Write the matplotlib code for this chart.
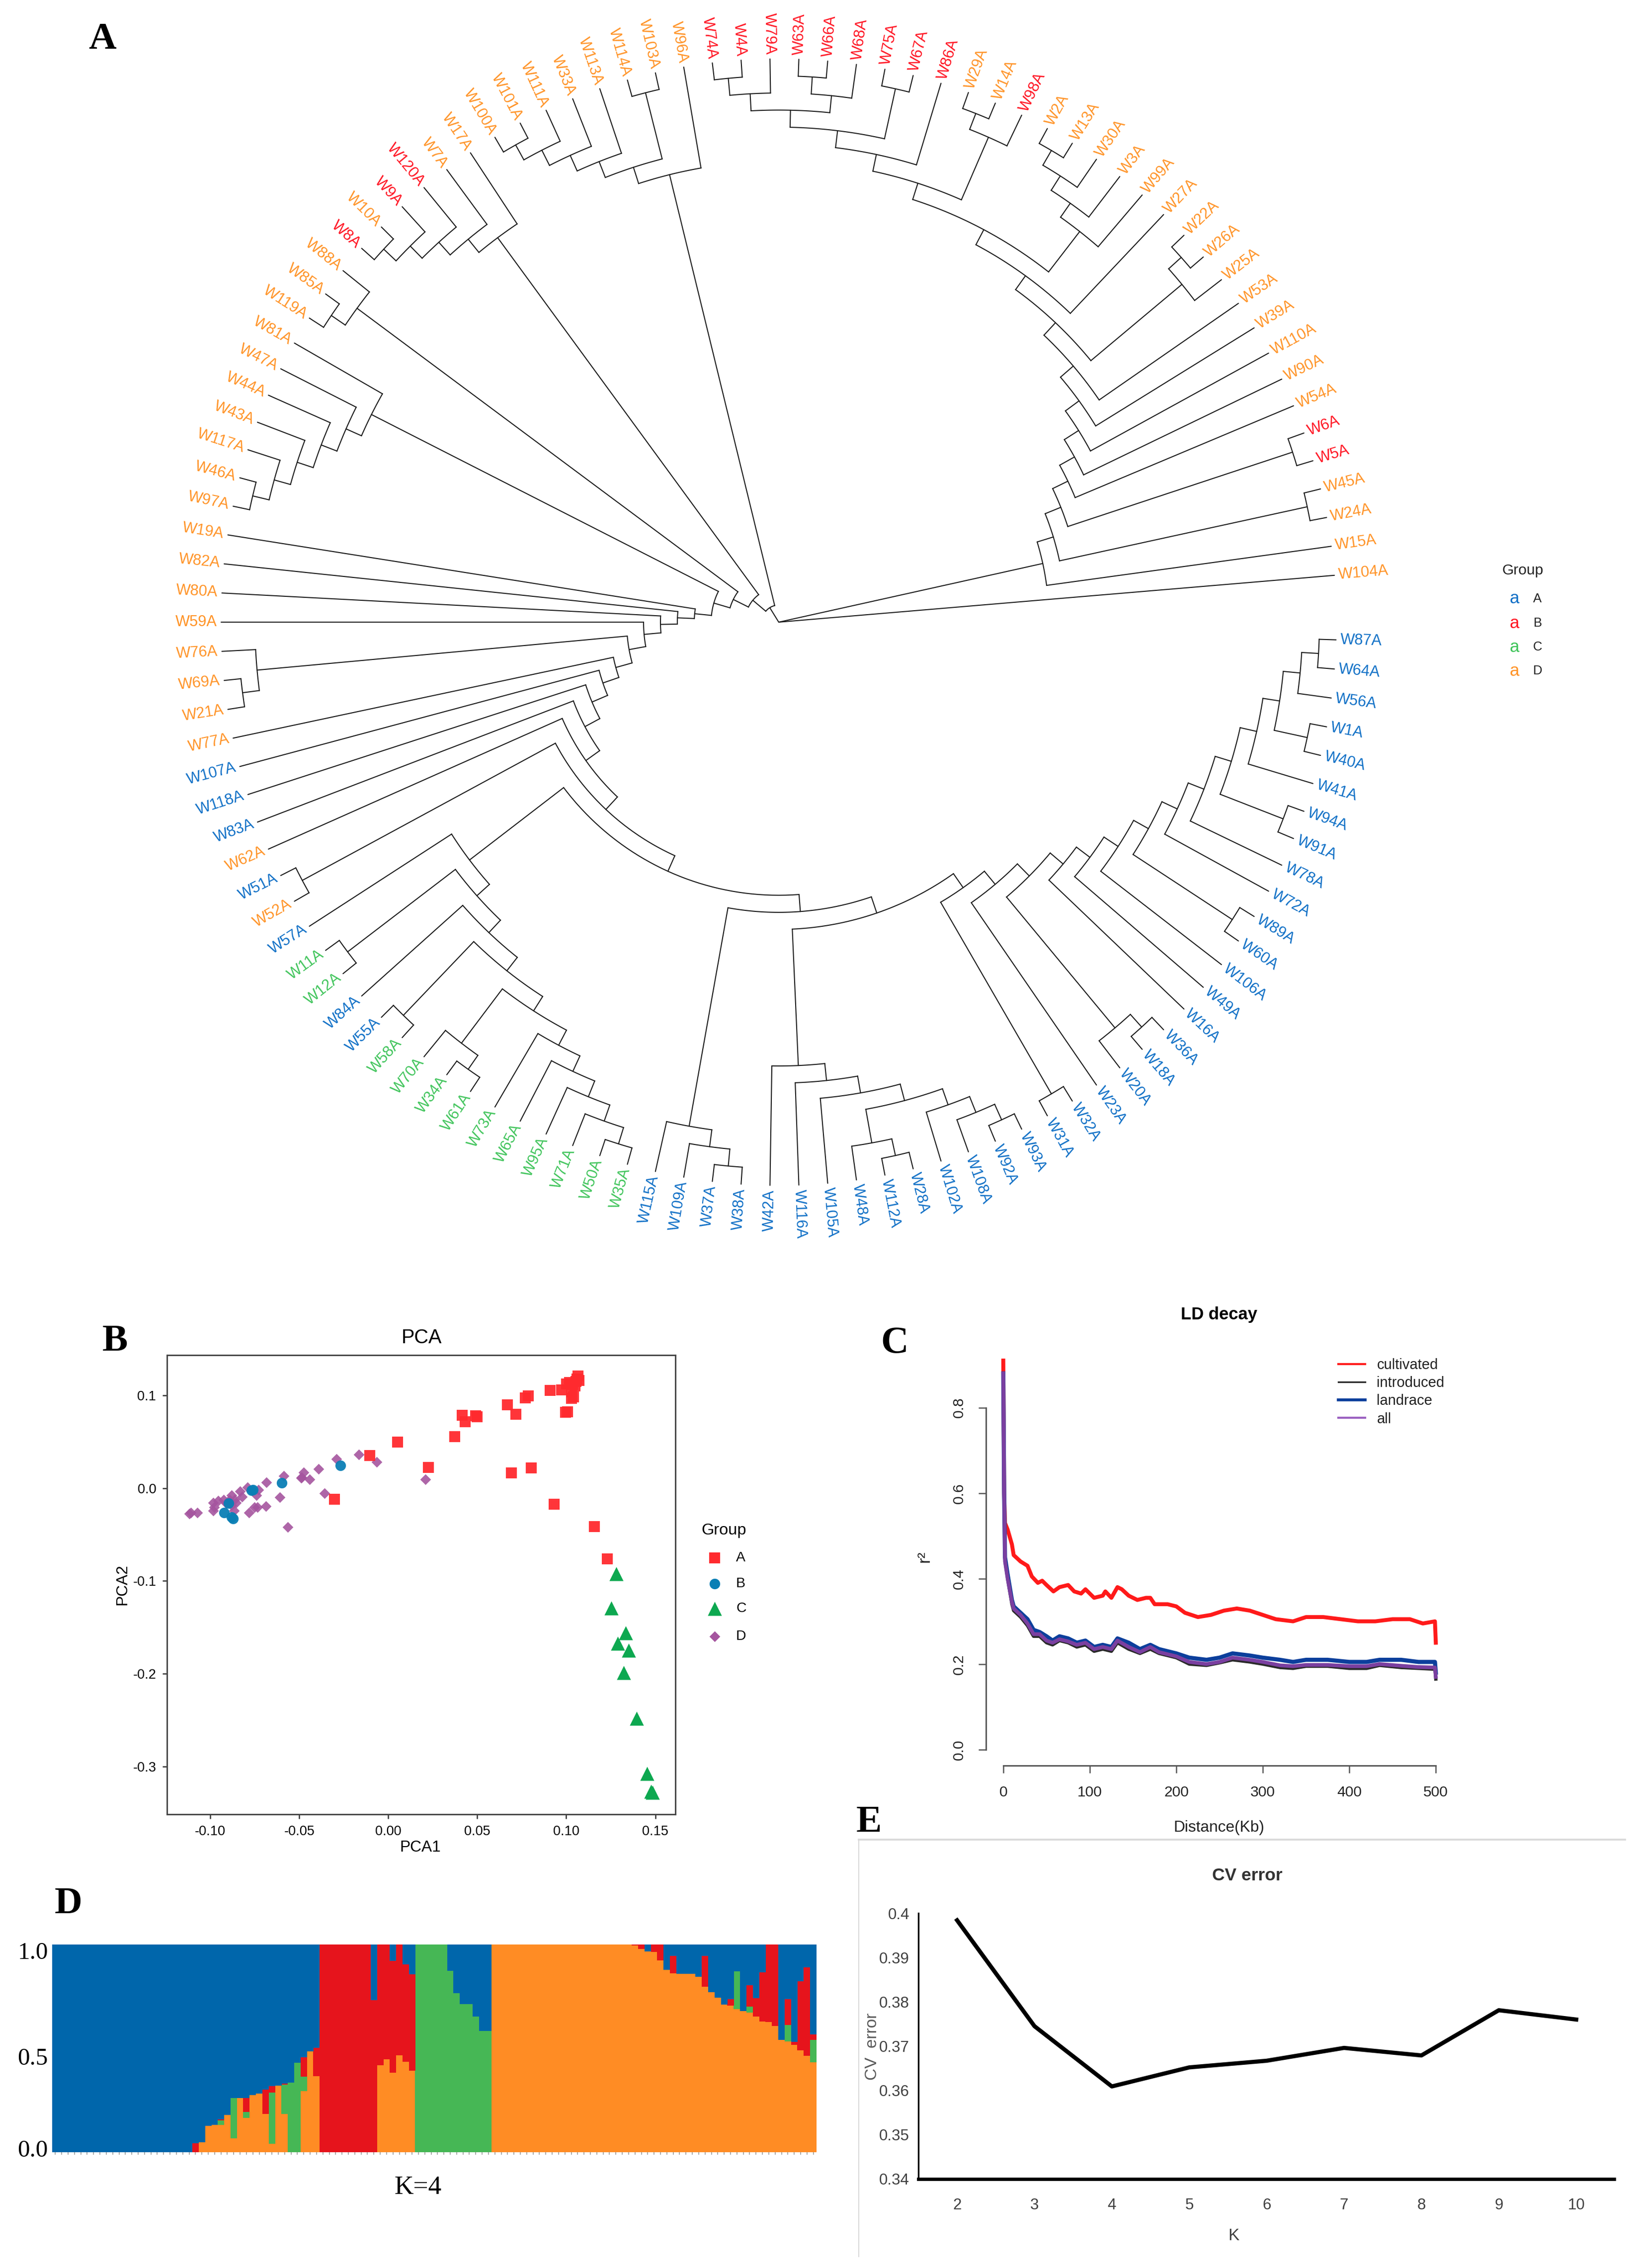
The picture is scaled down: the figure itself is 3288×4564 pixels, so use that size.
import math

import matplotlib
matplotlib.use('Agg')
import matplotlib.pyplot as plt
from matplotlib.lines import Line2D

plt.rcParams['font.family'] = ['Liberation Sans', 'DejaVu Sans']

W, H = 3288, 4564

# ---- A: tree, written clade by clade from the tips inward
x1 = ('W79A', ('W4A', 'W74A'))
x2 = (('W68A', ('W66A', 'W63A')), x1)
x3 = (('W67A', 'W75A'), x2)
x4 = ('W86A', x3)
x5 = (('W98A', ('W14A', 'W29A')), x4)
x6 = (('W99A', ('W3A', ('W30A', ('W13A', 'W2A')))), x5)
x7 = ('W27A', x6)
x8 = (('W25A', ('W26A', 'W22A')), x7)
x9 = ('W53A', x8)
x10 = ('W39A', x9)
x11 = ('W110A', x10)
x12 = ('W90A', x11)
x13 = ('W54A', x12)
x14 = (('W5A', 'W6A'), x13)
x15 = (('W24A', 'W45A'), x14)
clade_x = ('W15A', x15)

g1 = ('W50A', 'W35A')
g2 = ('W71A', g1)
g3 = ('W95A', g2)
g4 = ('W65A', g3)
g5 = ('W73A', g4)
g6 = (('W70A', ('W34A', 'W61A')), g5)
g7 = (('W55A', 'W58A'), g6)
g8 = ('W84A', g7)
g9 = (('W11A', 'W12A'), g8)
clade_green = ('W57A', g9)

r1 = ('W56A', ('W64A', 'W87A'))
r2 = (('W40A', 'W1A'), r1)
r3 = ('W41A', r2)
r4 = (('W91A', 'W94A'), r3)
r5 = ('W78A', r4)
r6 = ('W72A', r5)
r7 = (('W60A', 'W89A'), r6)
r8 = ('W106A', r7)
r9 = ('W49A', r8)
r10 = ('W16A', r9)
r11 = (('W20A', ('W18A', 'W36A')), r10)
r12 = ('W23A', r11)
clade_right = (('W31A', 'W32A'), r12)

clade_w42 = ('W42A', ('W116A', ('W105A', (('W48A', ('W112A', 'W28A')), ('W102A', ('W108A', ('W92A', 'W93A')))))))
clade_w115 = ('W115A', ('W109A', ('W37A', 'W38A')))
clade_w76 = ('W76A', ('W69A', 'W21A'))

s1 = (clade_w42, clade_right)
s2 = (clade_w115, s1)
s3 = (clade_green, s2)
s4 = (('W51A', 'W52A'), s3)
s5 = ('W62A', s4)
s6 = ('W83A', s5)
s7 = ('W118A', s6)
s8 = ('W107A', s7)
s9 = ('W77A', s8)
s10 = (clade_w76, s9)
s11 = ('W59A', s10)
s12 = ('W80A', s11)
s13 = ('W82A', s12)
clade_rest = ('W19A', s13)

clade_w81 = ('W81A', ('W47A', ('W44A', ('W43A', ('W117A', ('W46A', 'W97A'))))))
clade_w88 = ('W88A', ('W85A', 'W119A'))
clade_w17 = ('W17A', ('W7A', ('W120A', ('W9A', ('W10A', 'W8A')))))
clade_w96 = ('W96A', (('W103A', 'W114A'), ('W113A', ('W33A', ('W111A', ('W101A', 'W100A'))))))
clade_y = (clade_w96, (clade_w17, (clade_w88, (clade_w81, clade_rest))))
tree_root = ('W104A', clade_x, clade_y)

tips_red = ['W6A', 'W5A', 'W98A', 'W86A', 'W67A', 'W75A', 'W68A', 'W66A', 'W63A', 'W79A', 'W4A', 'W74A',
            'W120A', 'W9A', 'W8A']
tips_green = ['W11A', 'W12A', 'W58A', 'W70A', 'W34A', 'W61A', 'W73A', 'W65A', 'W95A', 'W71A', 'W50A', 'W35A']
tips_blue = ['W107A', 'W118A', 'W83A', 'W51A', 'W57A', 'W84A', 'W55A', 'W115A', 'W109A', 'W37A', 'W38A', 'W42A',
             'W116A', 'W105A', 'W48A', 'W112A', 'W28A', 'W102A', 'W108A', 'W92A', 'W93A', 'W31A', 'W32A', 'W23A',
             'W20A', 'W18A', 'W36A', 'W16A', 'W49A', 'W106A', 'W60A', 'W89A', 'W72A', 'W78A', 'W91A', 'W94A',
             'W41A', 'W40A', 'W1A', 'W56A', 'W64A', 'W87A']

tree_groups = ['A', 'B', 'C', 'D']
tree_colors = ['#0F6FC6', '#FF1422', '#3FC45A', '#FF9326']

# ---- B: PCA scores
pca_a_x = [-0.0303, -0.0104, 0.0053, 0.0225, 0.0373, 0.0414, 0.0433, 0.0491, 0.0498, 0.0669, 0.0718, 0.0692, 0.0803,
           0.0771, 0.0787, 0.0910, 0.0931, 0.0975, 0.0995, 0.1002, 0.1157, 0.1231, 0.1030, 0.1042, 0.1019, 0.1065,
           0.1072, 0.1049, 0.1035, 0.1055, 0.1008, 0.1030, 0.1060]
pca_a_y = [-0.0117, 0.0351, 0.0495, 0.0226, 0.0558, 0.0788, 0.0717, 0.0780, 0.0770, 0.0901, 0.0799, 0.0164, 0.0218,
           0.0975, 0.0994, 0.1053, -0.0172, 0.1060, 0.0819, 0.1123, -0.0413, -0.0764, 0.0967, 0.0986, 0.1142, 0.1209,
           0.1162, 0.1103, 0.1120, 0.1150, 0.0825, 0.1040, 0.1180]
pca_b_x = [-0.0269, -0.0597, -0.0769, -0.0760, -0.0898, -0.0921, -0.0873, -0.0880]
pca_b_y = [0.0246, 0.0055, -0.0023, -0.0018, -0.0164, -0.0265, -0.0327, -0.0310]
pca_c_x = [0.1282, 0.1252, 0.1333, 0.1289, 0.1350, 0.1324, 0.1394, 0.1454, 0.1475, 0.1484]
pca_c_y = [-0.0924, -0.1294, -0.1559, -0.1676, -0.1747, -0.1988, -0.2483, -0.3076, -0.3271, -0.3279]
pca_d_x = [-0.1116, -0.1109, -0.1074, -0.0984, -0.0956, -0.0926, -0.0984, -0.0977, -0.0880, -0.0863, -0.0822, -0.0833,
           -0.0792, -0.0729, -0.0741, -0.0685, -0.0782, -0.0752, -0.0734, -0.0688, -0.0609, -0.0586, -0.0565, -0.0486,
           -0.0475, -0.0442, -0.0391, -0.0359, -0.0292, -0.0164, -0.0065, 0.0208, -0.0890, -0.0866, -0.0880, -0.0856,
           -0.0890, -0.0912, -0.0490]
pca_d_y = [-0.0273, -0.0265, -0.0265, -0.0156, -0.0133, -0.0125, -0.0242, -0.0203, -0.0074, -0.0125, -0.0094, -0.0035,
           0.0008, -0.0019, -0.0074, 0.0062, -0.0265, -0.0203, -0.0207, -0.0195, -0.0097, 0.0133, -0.0421, 0.0117,
           0.0168, 0.0097, 0.0207, -0.0055, 0.0316, 0.0363, 0.0285, 0.0097, -0.0125, -0.0242, -0.0183, -0.0156,
           -0.0144, -0.0164, 0.0110]
pca_labels = ['A', 'B', 'C', 'D']

# ---- C: LD decay
ld_red_x = [0, 1, 2, 5, 10, 12, 20, 28, 33, 40, 45, 50, 58, 65, 75, 82, 90, 95, 105, 115, 118, 125, 132, 137, 145, 155,
            165, 170, 175, 190, 200, 210, 225, 240, 255, 270, 285, 300, 315, 335, 350, 370, 390, 410, 430, 450, 470,
            485, 499, 500]
ld_red_y = [0.91, 0.60, 0.53, 0.515, 0.48, 0.455, 0.44, 0.43, 0.405, 0.39, 0.395, 0.385, 0.37, 0.38, 0.385, 0.37, 0.365,
            0.375, 0.355, 0.36, 0.37, 0.355, 0.38, 0.375, 0.36, 0.35, 0.355, 0.355, 0.34, 0.34, 0.335, 0.32, 0.31, 0.315,
            0.325, 0.33, 0.325, 0.315, 0.305, 0.30, 0.31, 0.31, 0.305, 0.30, 0.30, 0.305, 0.305, 0.295, 0.30, 0.25]
ld_x = [0, 1, 2, 5, 10, 12, 20, 28, 35, 42, 50, 57, 65, 75, 85, 95, 105, 115, 125, 132, 145, 158, 170, 180, 200, 215,
        235, 250, 265, 285, 300, 320, 335, 350, 375, 400, 420, 435, 460, 480, 499, 500]
ld_blue_y = [0.88, 0.60, 0.45, 0.41, 0.35, 0.335, 0.32, 0.305, 0.28, 0.275, 0.265, 0.255, 0.265, 0.26, 0.25, 0.255, 0.24,
             0.245, 0.24, 0.26, 0.25, 0.235, 0.245, 0.235, 0.225, 0.215, 0.21, 0.215, 0.225, 0.22, 0.215, 0.21, 0.205,
             0.21, 0.21, 0.205, 0.205, 0.21, 0.21, 0.205, 0.205, 0.18]
ld_black_y = [0.87, 0.59, 0.44, 0.40, 0.34, 0.325, 0.31, 0.29, 0.265, 0.265, 0.25, 0.245, 0.255, 0.25, 0.24, 0.245, 0.23,
              0.235, 0.23, 0.25, 0.235, 0.225, 0.235, 0.225, 0.215, 0.20, 0.197, 0.203, 0.21, 0.205, 0.20, 0.192, 0.19,
              0.195, 0.195, 0.19, 0.19, 0.197, 0.192, 0.19, 0.188, 0.165]
ld_purple_y = [0.88, 0.60, 0.44, 0.40, 0.345, 0.33, 0.315, 0.295, 0.27, 0.27, 0.255, 0.25, 0.258, 0.253, 0.245, 0.25, 0.235,
               0.24, 0.235, 0.255, 0.24, 0.228, 0.24, 0.228, 0.218, 0.205, 0.20, 0.205, 0.215, 0.21, 0.205, 0.197, 0.195,
               0.198, 0.198, 0.195, 0.195, 0.20, 0.196, 0.193, 0.192, 0.17]
ld_names = ['cultivated', 'introduced', 'landrace', 'all']

# ---- D: admixture proportions, K=4, one value per accession
adm_orange = ([0] * 22 + [0, .047, .126, .131, .131, .179, .067, .261, .165, .275, .283, .184, .04, .32, .184, 0, 0,
              .293, .485, .365] + [0] * 9 + [.419, .447, .382, .466, .435, .391] + [0] * 12 + [1] * 22 +
              [.994, .977, .966, .963, .922, .878, .860, .857, .857, .857, .844, .796, .770, .743, .709, .705, .689,
               .679, .672, .652, .629, .625, .608, .539, .533, .517, .490, .464, .432])
adm_green = ([0] * 22 + [0, 0, 0, 0, .023, 0, .194, 0, .029, 0, 0, 0, .247, 0, .141, .334, .43, .071, 0, 0] + [0] * 15 +
             [1, 1, 1, 1, 1, .873, .764, .711, .711, .652, .584, .584] + [0] * 22 + [0] * 16 +
             [.180, 0, .027, 0, 0, 0, 0, 0, .078, 0, 0, 0, .107])
adm_red = ([0] * 22 + [.043, 0, 0, 0, .003, 0, 0, 0, .067, 0, 0, .116, .03, 0, .005, 0, 0, .092, 0, .136] + [1] * 8 +
           [.73, .581, .553, .539, .534, .469, .464] + [0] * 34 +
           [.006, .023, 0, .037, .078, 0, .085, 0, 0, 0, 0, .149, 0, 0, 0, .031, 0, 0, .103, .088, .237, .375, .392,
            0, .125, .014, .331, .426, .027])
adm_blue = ([1] * 22 + [.957, .953, .874, .869, .843, .821, .739, .739, .739, .725, .717, .70, .683, .68, .67, .666, .57,
            .544, .515, .499] + [0] * 8 + [.27, 0, 0, .079, 0, .096, .145] + [0] * 5 +
            [.127, .236, .289, .289, .348, .416, .416] + [0] * 22 +
            [0, 0, .034, 0, 0, .122, .055, .143, .143, .143, .156, .055, .23, .257, .291, .264, .131, .321, .198, .26,
             .134, 0, 0, .461, .264, .469, .179, .11, .434])

# ---- E: CV error
cv_k = ['2', '3', '4', '5', '6', '7', '8', '9', '10']
cv_error = [0.3984, 0.3745, 0.3609, 0.3652, 0.3667, 0.3696, 0.3679, 0.3781, 0.3760]

fig = plt.figure(figsize=(W / 300, H / 300), dpi=300)


def px_axes(left, top, right, bottom):
    return fig.add_axes([left / W, 1 - bottom / H, (right - left) / W, (bottom - top) / H])


def ftext(x, y, s, **kw):
    kw.setdefault('ha', 'center')
    kw.setdefault('va', 'center')
    return fig.text(x / W, 1 - y / H, s, **kw)


# panel letters
for letra, lx, ly in [('A', 178, 98), ('B', 206, 2718), ('C', 1772, 2722), ('D', 110, 3850), ('E', 1723, 3686)]:
    ftext(lx, ly, letra, ha='left', va='baseline', family='Liberation Serif', weight='bold', fontsize=18.5)


# ---- A
tree_ax = px_axes(0, 0, W, 2600)
tree_ax.set_xlim(-1567 / 34, (W - 1567) / 34)
tree_ax.set_ylim((1252 - 2600) / 34.35, 1252 / 34.35)
tree_ax.axis('off')

STEP = 2.97
START = 4.77
TIP_DEPTH = 33
tip_count = [0]


def altura(nodo):
    if isinstance(nodo, str):
        return 0
    return 1 + max(altura(hijo) for hijo in nodo)


def color_tip(nombre):
    if nombre in tips_red:
        return tree_colors[1]
    if nombre in tips_green:
        return tree_colors[2]
    if nombre in tips_blue:
        return tree_colors[0]
    return tree_colors[3]


def radial(tabla, angulo, r1, r2):
    a = math.radians(angulo)
    tabla.plot([r1 * math.cos(a), r2 * math.cos(a)], [r1 * math.sin(a), r2 * math.sin(a)],
               color='#1a1a1a', lw=0.5, solid_capstyle='round')


def dibujar(tabla, nodo, r_padre):
    if isinstance(nodo, str):
        angulo = START + STEP * tip_count[0]
        tip_count[0] += 1
        radial(tabla, angulo, r_padre, TIP_DEPTH)
        a = math.radians(angulo)
        derecha = math.cos(a) > 0
        tabla.text(33.25 * math.cos(a), 33.25 * math.sin(a), nodo, color=color_tip(nodo), fontsize=7.4,
                   rotation=angulo if derecha else angulo + 180, rotation_mode='anchor',
                   ha='left' if derecha else 'right', va='center')
        return angulo
    r = TIP_DEPTH - altura(nodo)
    angulos = [dibujar(tabla, hijo, r) for hijo in nodo]
    a1, a2 = angulos[0], angulos[-1]
    medio = (a1 + a2) / 2
    puntos = [a1 + (a2 - a1) * k / 40 for k in range(41)]
    tabla.plot([r * math.cos(math.radians(p)) for p in puntos], [r * math.sin(math.radians(p)) for p in puntos],
               color='#1a1a1a', lw=0.5)
    radial(tabla, medio, r_padre, r)
    return medio


for hijo in tree_root:
    dibujar(tree_ax, hijo, 0)

ftext(3064, 1148, 'Group', fontsize=7.2, color='#222222')
for i, y_leg in enumerate([1205, 1254, 1302, 1350]):
    ftext(3047, y_leg, 'a', fontsize=8.4, color=tree_colors[i])
    ftext(3094, y_leg, tree_groups[i], fontsize=6.2, color='#222222')


# ---- B
pca_ax = px_axes(336, 2727, 1359, 3651)
pca_ax.set_xlim(-0.1243, 0.1613)
pca_ax.set_ylim(-0.3517, 0.1435)
pca_ax.scatter(pca_d_x, pca_d_y, marker='D', s=13.5, color='#A5559F', alpha=0.9, linewidths=0)
pca_ax.scatter(pca_a_x, pca_a_y, marker='s', s=26, color='#FF2A2E', alpha=0.95, linewidths=0)
pca_ax.scatter(pca_b_x, pca_b_y, marker='o', s=26, color='#0A7FB5', alpha=0.95, linewidths=0)
pca_ax.scatter(pca_c_x, pca_c_y, marker='^', s=46, color='#0DA850', linewidths=0)
pca_ax.set_xticks([-0.10, -0.05, 0.00, 0.05, 0.10, 0.15], ['-0.10', '-0.05', '0.00', '0.05', '0.10', '0.15'])
pca_ax.set_yticks([-0.3, -0.2, -0.1, 0.0, 0.1], ['-0.3', '-0.2', '-0.1', '0.0', '0.1'])
pca_ax.tick_params(labelsize=6.5, length=2.2, width=0.6, pad=3, color='#333333')
for borde in pca_ax.spines.values():
    borde.set_linewidth(0.7)
    borde.set_color('#444444')
ftext(848, 2692, 'PCA', fontsize=9.5)
ftext(846, 3718, 'PCA1', fontsize=7.6)
ftext(246, 3189, 'PCA2', fontsize=7.6, rotation=90)

ftext(1457, 3080, 'Group', fontsize=7.8)
leyenda_ax = px_axes(1400, 3100, 1475, 3330)
leyenda_ax.set_xlim(0, 1)
leyenda_ax.set_ylim(3330, 3100)
leyenda_ax.axis('off')
marcas = [('s', 26, '#FF2A2E'), ('o', 26, '#0A7FB5'), ('^', 46, '#0DA850'), ('D', 13.5, '#A5559F')]
for i, y_leg in enumerate([3135, 3187, 3237, 3293]):
    leyenda_ax.scatter([0.5], [y_leg], marker=marcas[i][0], s=marcas[i][1], color=marcas[i][2], linewidths=0)
    ftext(1481, y_leg, pca_labels[i], ha='left', fontsize=6.8)


# ---- C
ld_ax = px_axes(1984, 2707, 2924, 3553)
ld_ax.set_xlim(-20, 520)
ld_ax.set_ylim(-0.0375, 0.946)
ld_ax.plot(ld_red_x, ld_red_y, color='#FF1A1A', lw=1.9)
ld_ax.plot(ld_x, ld_black_y, color='#2A2A2A', lw=1.6)
ld_ax.plot(ld_x, ld_blue_y, color='#0C3F9C', lw=2.0)
ld_ax.plot(ld_x, ld_purple_y, color='#7A3FA0', lw=1.8)
for lado in ['top', 'right']:
    ld_ax.spines[lado].set_visible(False)
ld_ax.spines['left'].set_bounds(0, 0.8)
ld_ax.spines['bottom'].set_bounds(0, 500)
for lado in ['left', 'bottom']:
    ld_ax.spines[lado].set_color('#555555')
    ld_ax.spines[lado].set_linewidth(0.7)
ld_ax.set_xticks([0, 100, 200, 300, 400, 500])
ld_ax.set_yticks([0.0, 0.2, 0.4, 0.6, 0.8], ['0.0', '0.2', '0.4', '0.6', '0.8'])
ld_ax.tick_params(axis='x', labelsize=7.2, length=3.6, width=0.6, pad=6, color='#555555', labelcolor='#222222')
ld_ax.tick_params(axis='y', labelsize=7.2, length=3.6, width=0.6, pad=6, color='#555555', labelcolor='#222222',
                  labelrotation=90)
for etiqueta in ld_ax.get_yticklabels():
    etiqueta.set_va('center')
manejos = [Line2D([], [], color='#FF1A1A', lw=1.0), Line2D([], [], color='#2A2A2A', lw=0.8),
           Line2D([], [], color='#0C3F9C', lw=1.4), Line2D([], [], color='#9A5FC0', lw=1.0)]
ld_ax.legend(manejos, ld_names, loc='upper left', bbox_to_anchor=(2693 / W, 1 - 2733 / H),
             bbox_transform=fig.transFigure, frameon=False, fontsize=7, labelspacing=0.28, handlelength=1.85,
             handletextpad=0.8, borderpad=0, borderaxespad=0, labelcolor='#222222')
ftext(2453, 2645, 'LD decay', fontsize=8.3, weight='bold')
ftext(2453, 3678, 'Distance(Kb)', fontsize=7.6, color='#222222')
ftext(1860, 3132, 'r²', fontsize=8.5, rotation=90, color='#222222')


# ---- D
adm_ax = px_axes(105, 3912.5, 1643, 4331)
adm_ax.set_xlim(-0.5, 119.5)
adm_ax.set_ylim(0, 1)
acumulado = [0] * 120
for valores, tono in [(adm_orange, '#FF8C24'), (adm_green, '#46B755'), (adm_red, '#E6141C'), (adm_blue, '#0066AB')]:
    adm_ax.bar(range(120), valores, width=1.02, bottom=acumulado, color=tono, linewidth=0)
    acumulado = [a + v for a, v in zip(acumulado, valores)]
for borde in adm_ax.spines.values():
    borde.set_visible(False)
adm_ax.set_xticks(range(120), [''] * 120)
adm_ax.tick_params(axis='x', length=1.3, width=0.4, color='#999999')
# the labels sit slightly inside the 0-1 range in the original
adm_ax.set_yticks([0.02, 0.46, 0.97], ['0.0', '0.5', '1.0'], family='Liberation Serif')
adm_ax.tick_params(axis='y', length=0, labelsize=11.8, pad=2)
ftext(841, 4402, 'K=4', family='Liberation Serif', fontsize=12.8)


# ---- E
cv_ax = px_axes(1848, 3850, 3248, 4385)
cv_ax.set_xlim(-0.5, 8.49)
cv_ax.set_ylim(0.34, 0.40)
cv_ax.plot(range(len(cv_k)), cv_error, color='black', lw=2.0)
for lado in ['top', 'right']:
    cv_ax.spines[lado].set_visible(False)
cv_ax.spines['left'].set_linewidth(0.8)
cv_ax.spines['bottom'].set_linewidth(1.6)
cv_ax.set_xticks(range(len(cv_k)), cv_k)
cv_ax.set_yticks([0.34, 0.35, 0.36, 0.37, 0.38, 0.39, 0.40], ['0.34', '0.35', '0.36', '0.37', '0.38', '0.39', '0.4'])
cv_ax.tick_params(axis='x', length=0, labelsize=7.5, pad=9, labelcolor='#404040')
cv_ax.tick_params(axis='y', length=0, labelsize=7.5, pad=4.3, labelcolor='#404040')
ftext(2510, 3775, 'CV error', weight='bold', fontsize=8.5, color='#333333')
ftext(2482, 4500, 'K', fontsize=8, color='#404040')
ftext(1755, 4118, 'CV  error', fontsize=8, rotation=90, color='#595959')
fig.add_artist(Line2D([1728 / W, 3270 / W], [1 - 3702 / H, 1 - 3702 / H], color='#D9D9D9', lw=0.9))
fig.add_artist(Line2D([1728 / W, 1728 / W], [1 - 3702 / H, 1 - 4541 / H], color='#D9D9D9', lw=0.5))

fig.savefig('out.png', dpi=300)
